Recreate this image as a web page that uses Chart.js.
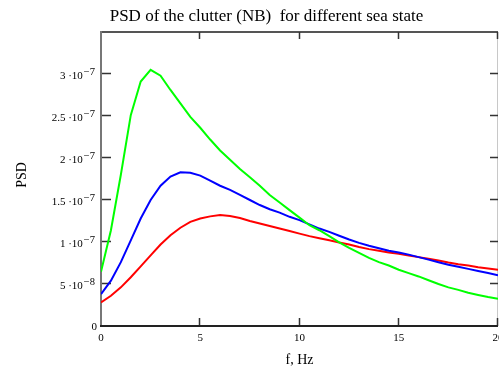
<!DOCTYPE html>
<html>
<head>
<meta charset="utf-8">
<script src="https://cdn.jsdelivr.net/npm/chart.js@4/dist/chart.umd.min.js"></script>
<style>
  html, body { margin: 0; padding: 0; background: #fff; }
  #wrap { width: 499px; height: 374px; }
</style>
</head>
<body>
<div id="wrap"><canvas id="myChart" width="499" height="374"></canvas></div>
<script>
// frequency samples, Hz
const freq = [0, 0.5, 1, 1.5, 2, 2.5, 3, 3.5, 4, 4.5, 5, 5.5, 6, 6.5, 7, 7.5, 8, 8.5, 9, 9.5,
  10, 10.5, 11, 11.5, 12, 12.5, 13, 13.5, 14, 14.5, 15, 15.5, 16, 16.5, 17, 17.5, 18, 18.5, 19, 19.5, 20];

// PSD values, in units of 1e-8
const psdGreen = [6.45, 11.4, 18.0, 25.1, 29.1, 30.5, 29.8, 28.1, 26.5, 24.9, 23.6, 22.2, 20.9, 19.8, 18.7, 17.7,
  16.7, 15.6, 14.7, 13.8, 12.9, 12.0, 11.4, 10.7, 9.96, 9.3, 8.7, 8.1, 7.6, 7.2, 6.7, 6.3, 5.9, 5.45, 5.0, 4.6,
  4.3, 3.95, 3.7, 3.45, 3.25];
const psdBlue = [3.8, 5.4, 7.6, 10.2, 12.8, 15.0, 16.7, 17.8, 18.3, 18.25, 17.9, 17.3, 16.7, 16.2, 15.6, 15.0,
  14.4, 13.9, 13.5, 13.0, 12.6, 12.1, 11.6, 11.2, 10.75, 10.3, 9.9, 9.55, 9.25, 8.95, 8.75, 8.5, 8.2, 7.9, 7.6,
  7.3, 7.05, 6.8, 6.55, 6.3, 6.05];
const psdRed = [2.8, 3.6, 4.6, 5.8, 7.1, 8.4, 9.7, 10.8, 11.7, 12.4, 12.8, 13.05, 13.2, 13.1, 12.85, 12.5,
  12.2, 11.9, 11.6, 11.3, 11.0, 10.7, 10.45, 10.2, 9.95, 9.7, 9.4, 9.15, 8.95, 8.75, 8.6, 8.4, 8.2, 8.0, 7.8,
  7.55, 7.35, 7.2, 7.0, 6.85, 6.7];

// axis ticks
const xTicks = [0, 5, 10, 15, 20];
const xTickLabels = ['0', '5', '10', '15', '20'];
const yTicks = [0, 5e-8, 1e-7, 1.5e-7, 2e-7, 2.5e-7, 3e-7];
const yTickMantissa = ['0', '5 \u00b710', '1 \u00b710', '1.5 \u00b710', '2 \u00b710', '2.5 \u00b710', '3 \u00b710'];
const yTickExponent = ['', '\u22128', '\u22127', '\u22127', '\u22127', '\u22127', '\u22127'];

const serif = '"Liberation Serif", "Times New Roman", serif';

function toPoints(vals) {
  return freq.map((f, i) => ({ x: f, y: vals[i] * 1e-8 }));
}

// frame, inner ticks and all the text, Mathcad style
const mathcadAxes = {
  id: 'mathcadAxes',
  beforeDatasetsDraw(chart) {
    const ctx = chart.ctx;
    const a = chart.chartArea;
    const xs = chart.scales.x, ys = chart.scales.y;
    ctx.save();
    // right and top border
    ctx.strokeStyle = '#c8c8c8';
    ctx.lineWidth = 1;
    ctx.beginPath();
    ctx.moveTo(a.right - 0.5, a.top);
    ctx.lineTo(a.right - 0.5, a.bottom);
    ctx.stroke();
    ctx.strokeStyle = '#555';
    ctx.lineWidth = 2;
    ctx.beginPath();
    ctx.moveTo(a.left, a.top);
    ctx.lineTo(a.right, a.top);
    ctx.stroke();
    // ticks
    ctx.strokeStyle = '#333';
    ctx.lineWidth = 1.5;
    xTicks.forEach(v => {
      const px = Math.round(xs.getPixelForValue(v)) - 0.5;
      if (v === 0) return;
      ctx.beginPath();
      ctx.moveTo(px, a.bottom); ctx.lineTo(px, a.bottom - 8);
      ctx.moveTo(px, a.top); ctx.lineTo(px, a.top + 7);
      ctx.stroke();
    });
    yTicks.forEach(v => {
      const py = Math.round(ys.getPixelForValue(v)) - 0.5;
      if (v === 0) return;
      ctx.beginPath();
      ctx.moveTo(a.left, py); ctx.lineTo(a.left + 10, py);
      ctx.moveTo(a.right, py); ctx.lineTo(a.right - 8, py);
      ctx.stroke();
    });
    // left and bottom axis
    ctx.strokeStyle = '#777';
    ctx.lineWidth = 2;
    ctx.beginPath();
    ctx.moveTo(a.left, a.top - 1);
    ctx.lineTo(a.left, a.bottom);
    ctx.stroke();
    ctx.strokeStyle = '#222';
    ctx.beginPath();
    ctx.moveTo(a.left - 1, a.bottom);
    ctx.lineTo(a.right, a.bottom);
    ctx.stroke();
    ctx.restore();
  },
  afterDraw(chart) {
    const ctx = chart.ctx;
    const a = chart.chartArea;
    const xs = chart.scales.x, ys = chart.scales.y;
    ctx.save();
    ctx.fillStyle = '#000';

    // title
    ctx.font = '17px ' + serif;
    ctx.textAlign = 'center';
    ctx.textBaseline = 'alphabetic';
    ctx.fillText('PSD of the clutter (NB)  for different sea state', 266.5, 21);

    // x tick labels
    ctx.font = '11px ' + serif;
    xTicks.forEach((v, i) => {
      ctx.fillText(xTickLabels[i], xs.getPixelForValue(v), 341);
    });

    // y tick labels with superscript exponent
    yTicks.forEach((v, i) => {
      const py = ys.getPixelForValue(v);
      if (!yTickExponent[i]) {
        ctx.font = '11px ' + serif;
        ctx.textAlign = 'right';
        ctx.fillText(yTickMantissa[i], 97, py + 4);
        return;
      }
      ctx.font = '10.5px ' + serif;
      const supW = ctx.measureText(yTickExponent[i]).width;
      const supX = 95 - supW;
      ctx.textAlign = 'left';
      ctx.fillText(yTickExponent[i], supX, py + 1);
      ctx.font = '11px ' + serif;
      ctx.textAlign = 'right';
      ctx.fillText(yTickMantissa[i], supX - 1, py + 5);
    });

    // axis titles
    ctx.font = '14px ' + serif;
    ctx.textAlign = 'center';
    ctx.fillText('f, Hz', (a.left + a.right) / 2, 364);
    ctx.translate(26, 175);
    ctx.rotate(-Math.PI / 2);
    ctx.fillText('PSD', 0, 0);
    ctx.restore();
  }
};

const ctx = document.getElementById('myChart');
const myChart = new Chart(ctx, {
  type: 'line',
  data: {
    datasets: [
      { label: 'green', data: toPoints(psdGreen), borderColor: '#00ff00' },
      { label: 'blue', data: toPoints(psdBlue), borderColor: '#0000ff' },
      { label: 'red', data: toPoints(psdRed), borderColor: '#ff0000' }
    ]
  },
  options: {
    responsive: false,
    animation: false,
    layout: { padding: { left: 101, right: 1, top: 32, bottom: 48 } },
    elements: {
      line: { borderWidth: 2, tension: 0, fill: false },
      point: { radius: 0 }
    },
    scales: {
      x: { type: 'linear', min: 0, max: 20, display: false },
      y: { type: 'linear', min: 0, max: 3.5e-7, display: false }
    },
    plugins: {
      legend: { display: false },
      title: { display: false },
      tooltip: { enabled: false }
    }
  },
  plugins: [mathcadAxes]
});
</script>
</body>
</html>
